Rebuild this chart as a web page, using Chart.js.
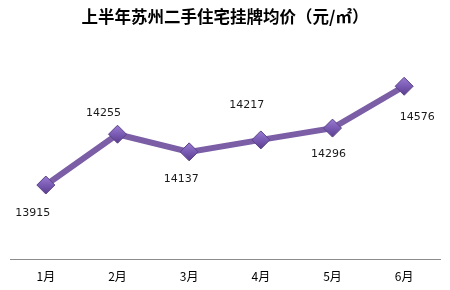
<!DOCTYPE html>
<html><head><meta charset="utf-8">
<script src="https://cdn.jsdelivr.net/npm/chart.js@4/dist/chart.umd.min.js"></script>
<style>html,body{margin:0;padding:0;background:#fff}#wrap{width:450px;height:290px}</style>
</head><body><div id="wrap"><canvas id="c" width="450" height="290"></canvas></div>
<script>
const titleText = '上半年苏州二手住宅挂牌均价（元/㎡）';
const categories = ['1月','2月','3月','4月','5月','6月'];
const prices = [13915, 14255, 14137, 14217, 14296, 14576];
const yMin = 13420, yMax = 14800;

// label offsets relative to each point (style only)
const labelOffsets = [[-13,28],[-14,-21],[-8,27],[-14,-35],[-4,26],[13,31]];

const valueLabels = {
  id: 'valueLabels',
  afterDatasetsDraw(chart) {
    const ctx = chart.ctx;
    const meta = chart.getDatasetMeta(0);
    ctx.save();
    ctx.font = '11px "DejaVu Sans", sans-serif';
    ctx.fillStyle = '#1a1a1a';
    ctx.textAlign = 'center';
    ctx.textBaseline = 'middle';
    meta.data.forEach((pt, i) => {
      const v = chart.data.datasets[0].data[i];
      const o = labelOffsets[i];
      ctx.fillText(String(v), pt.x + o[0], pt.y + o[1]);
    });
    ctx.restore();
  }
};

function diamondFill(context) {
  const chart = context.chart;
  const el = context.element;
  if (!el || el.y === undefined) return '#7b5ea6';
  const g = chart.ctx.createLinearGradient(el.x, el.y - 9, el.x, el.y + 9);
  g.addColorStop(0, '#9a7bd2');
  g.addColorStop(0.5, '#7a5bb4');
  g.addColorStop(1, '#5a3d8e');
  return g;
}

new Chart(document.getElementById('c'), {
  type: 'line',
  data: {
    labels: categories,
    datasets: [{
      data: prices,
      borderColor: '#7b5ea6',
      borderWidth: 6,
      pointStyle: 'rectRot',
      pointRadius: 9,
      pointHoverRadius: 9,
      pointBackgroundColor: diamondFill,
      pointBorderColor: '#5c4288',
      pointBorderWidth: 1,
      tension: 0
    }]
  },
  options: {
    responsive: false,
    animation: false,
    devicePixelRatio: 1,
    layout: { padding: { left: 8, right: 8, top: 0, bottom: 4 } },
    plugins: {
      legend: { display: false },
      tooltip: { enabled: false },
      title: {
        display: true,
        text: titleText,
        color: '#000',
        font: { family: '"Noto Sans CJK SC", sans-serif', size: 16.5, weight: 'bold' },
        padding: { top: 7, bottom: 26 }
      }
    },
    scales: {
      x: {
        offset: true,
        grid: { display: false, drawTicks: false },
        border: { display: true, color: '#8c8c8c', width: 1 },
        ticks: { color: '#000', padding: 10, font: { family: '"Noto Sans CJK SC", sans-serif', size: 12 } },
        afterFit(scale) { scale.height = 27; }
      },
      y: {
        display: false,
        min: yMin,
        max: yMax
      }
    }
  },
  plugins: [valueLabels]
});
</script>
</body></html>
